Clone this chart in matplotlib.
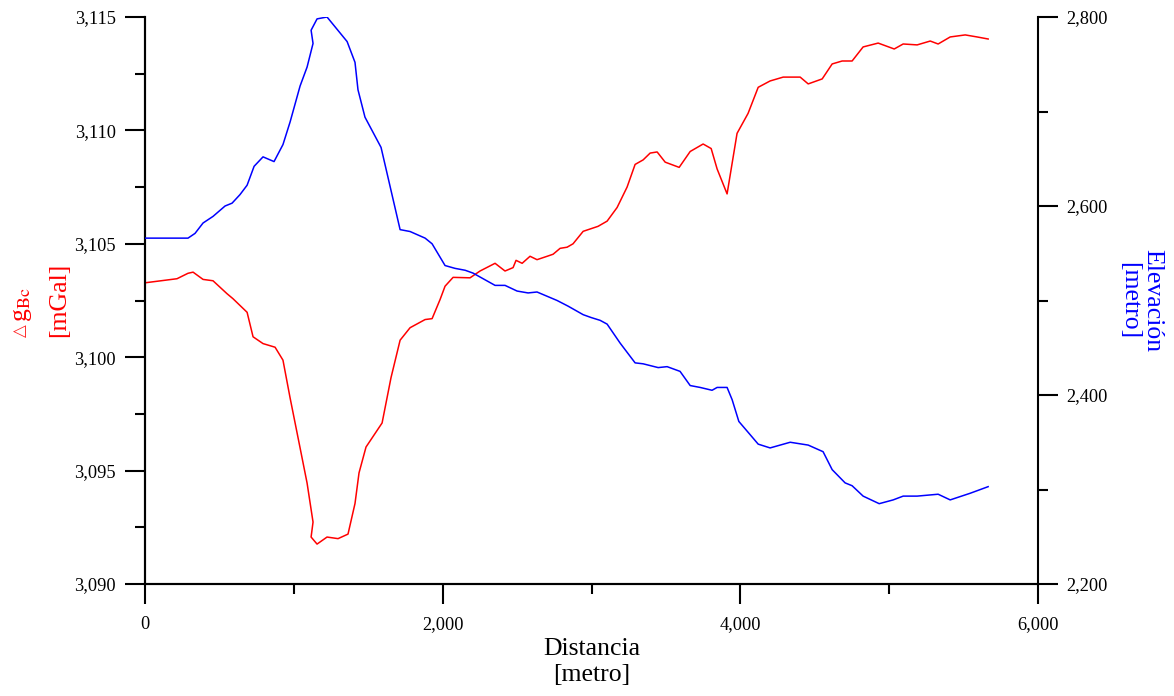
import numpy as np
import matplotlib
matplotlib.use("Agg")
import matplotlib.pyplot as plt
from matplotlib.ticker import MultipleLocator, FuncFormatter

# =========================
# DATA
# =========================
dist_g = [0, 215, 289, 323, 390, 457, 551, 591, 686, 726, 793, 874, 927, 975,
          1042, 1089, 1129, 1116, 1156, 1223, 1297, 1364, 1411, 1438, 1485, 1593,
          1653, 1714, 1781, 1882, 1929, 1983, 2016, 2070, 2184, 2251, 2352, 2419,
          2473, 2493, 2534, 2587, 2634, 2702, 2742, 2789, 2836, 2876, 2944, 3044,
          3105, 3172, 3239, 3293, 3347, 3394, 3441, 3495, 3589, 3663, 3750, 3804,
          3844, 3911, 3978, 4052, 4120, 4200, 4288, 4402, 4456, 4550, 4617, 4684,
          4751, 4825, 4926, 5034, 5094, 5188, 5276, 5329, 5410, 5511, 5591, 5665]
grav = [3103.28, 3103.46, 3103.70, 3103.75, 3103.43, 3103.37, 3102.80, 3102.58,
        3101.98, 3100.90, 3100.60, 3100.44, 3099.87, 3098.20, 3096.00, 3094.45,
        3092.73, 3092.07, 3091.76, 3092.07, 3092.00, 3092.20, 3093.55, 3094.90,
        3096.04, 3097.10, 3099.10, 3100.75, 3101.30, 3101.66, 3101.70, 3102.55,
        3103.13, 3103.52, 3103.50, 3103.80, 3104.14, 3103.80, 3103.95, 3104.27,
        3104.14, 3104.45, 3104.30, 3104.45, 3104.54, 3104.80, 3104.85, 3105.00,
        3105.55, 3105.77, 3106.00, 3106.60, 3107.50, 3108.50, 3108.70, 3109.00,
        3109.05, 3108.60, 3108.37, 3109.07, 3109.40, 3109.20, 3108.30, 3107.20,
        3109.87, 3110.75, 3111.90, 3112.18, 3112.35, 3112.35, 3112.05, 3112.27,
        3112.93, 3113.06, 3113.06, 3113.68, 3113.85, 3113.59, 3113.81, 3113.77,
        3113.94, 3113.81, 3114.12, 3114.21, 3114.12, 3114.03]

dist_e = [0, 289, 336, 390, 457, 538, 585, 638, 686, 733, 793, 867, 927, 975,
          1042, 1089, 1129, 1116, 1156, 1223, 1358, 1411, 1431, 1478, 1586, 1714,
          1781, 1882, 1929, 2016, 2083, 2151, 2204, 2352, 2419, 2500, 2574, 2634,
          2769, 2843, 2944, 2997, 3058, 3105, 3192, 3293, 3347, 3448, 3508, 3595,
          3663, 3730, 3810, 3844, 3911, 3945, 3990, 4066, 4120, 4200, 4335, 4456,
          4556, 4617, 4704, 4751, 4825, 4933, 5027, 5094, 5188, 5329, 5410, 5544,
          5665]
elev = [2566, 2566, 2571, 2582, 2589, 2600, 2603, 2612, 2622, 2642, 2652, 2647,
        2665, 2689, 2727, 2747, 2772, 2786, 2798, 2800, 2774, 2752, 2723, 2694,
        2662, 2575, 2573, 2566, 2560, 2537, 2534, 2532, 2529, 2516, 2516, 2510,
        2508, 2509, 2500, 2494, 2485, 2482, 2479, 2475, 2455, 2434, 2433, 2429,
        2430, 2425, 2410, 2408, 2405, 2408, 2408, 2395, 2372, 2358, 2348, 2344,
        2350, 2347, 2340, 2321, 2307, 2304, 2293, 2285, 2289, 2293, 2293, 2295,
        2289, 2296, 2303]

# =========================
# STYLE
# =========================
plt.rcParams.update({
    "font.family": ["Liberation Serif", "DejaVu Serif"],
    "mathtext.fontset": "stix",
    "font.size": 13.2,
    "axes.linewidth": 1.5,
})

W, H = 1174, 696
fmt = FuncFormatter(lambda v, p: f"{v:,.0f}")

fig = plt.figure(figsize=(W / 100, H / 100), dpi=100)
ax = fig.add_axes([145 / W, 112 / H, 893 / W, 567 / H])
ax2 = ax.twinx()

ax.plot(dist_g, grav, color="#ff0000", lw=1.1, zorder=3)
ax2.plot(dist_e, elev, color="#0000ff", lw=1.1, zorder=3)

ax.set_xlim(0, 6000)
ax.set_ylim(3090, 3115)
ax2.set_ylim(2200, 2800)

ax.xaxis.set_major_locator(MultipleLocator(2000))
ax.xaxis.set_minor_locator(MultipleLocator(1000))
ax.yaxis.set_major_locator(MultipleLocator(5))
ax.yaxis.set_minor_locator(MultipleLocator(2.5))
ax2.yaxis.set_major_locator(MultipleLocator(200))
ax2.yaxis.set_minor_locator(MultipleLocator(100))
for a in (ax.xaxis, ax.yaxis, ax2.yaxis):
    a.set_major_formatter(fmt)

for a in (ax, ax2):
    a.spines["top"].set_visible(False)
    a.tick_params(which="major", direction="out", length=14.4, width=1.5)
    a.tick_params(which="minor", direction="out", length=7.2, width=1.5)
ax.tick_params(axis="y", which="major", pad=6.5)
ax.tick_params(axis="x", which="major", pad=8.5)
ax2.tick_params(axis="y", which="major", pad=6)
ax.spines["right"].set_visible(False)

# axis titles
ax.text(0.5, -0.1376, "Distancia\n[metro]", transform=ax.transAxes,
        ha="center", va="center", fontsize=18.5, linespacing=1.2)

# left title: small triangle, g_Bc, and [mGal] below (rotated)
def px(x, y):
    return x / W, 1 - y / H

red = "#ff0000"
fig.text(*px(25, 337), "\u25b3", rotation=90, rotation_mode="anchor",
         ha="left", va="baseline", fontsize=12, color=red,
         family=["DejaVu Sans"], alpha=0.85)
fig.text(*px(27, 322), "g$_{\\mathrm{Bc}}$", rotation=90, rotation_mode="anchor",
         ha="left", va="baseline", fontsize=18.5, color=red)
fig.text(*px(65, 337), "[mGal]", rotation=90, rotation_mode="anchor",
         ha="left", va="baseline", fontsize=18.5, color=red)

ax.text(1.115, 0.5, "Elevación\n[metro]", transform=ax.transAxes,
        rotation=270, ha="center", va="center", multialignment="center",
        fontsize=18.5, color="#0000ff", linespacing=1.1)

fig.savefig("out.png", dpi=100)
